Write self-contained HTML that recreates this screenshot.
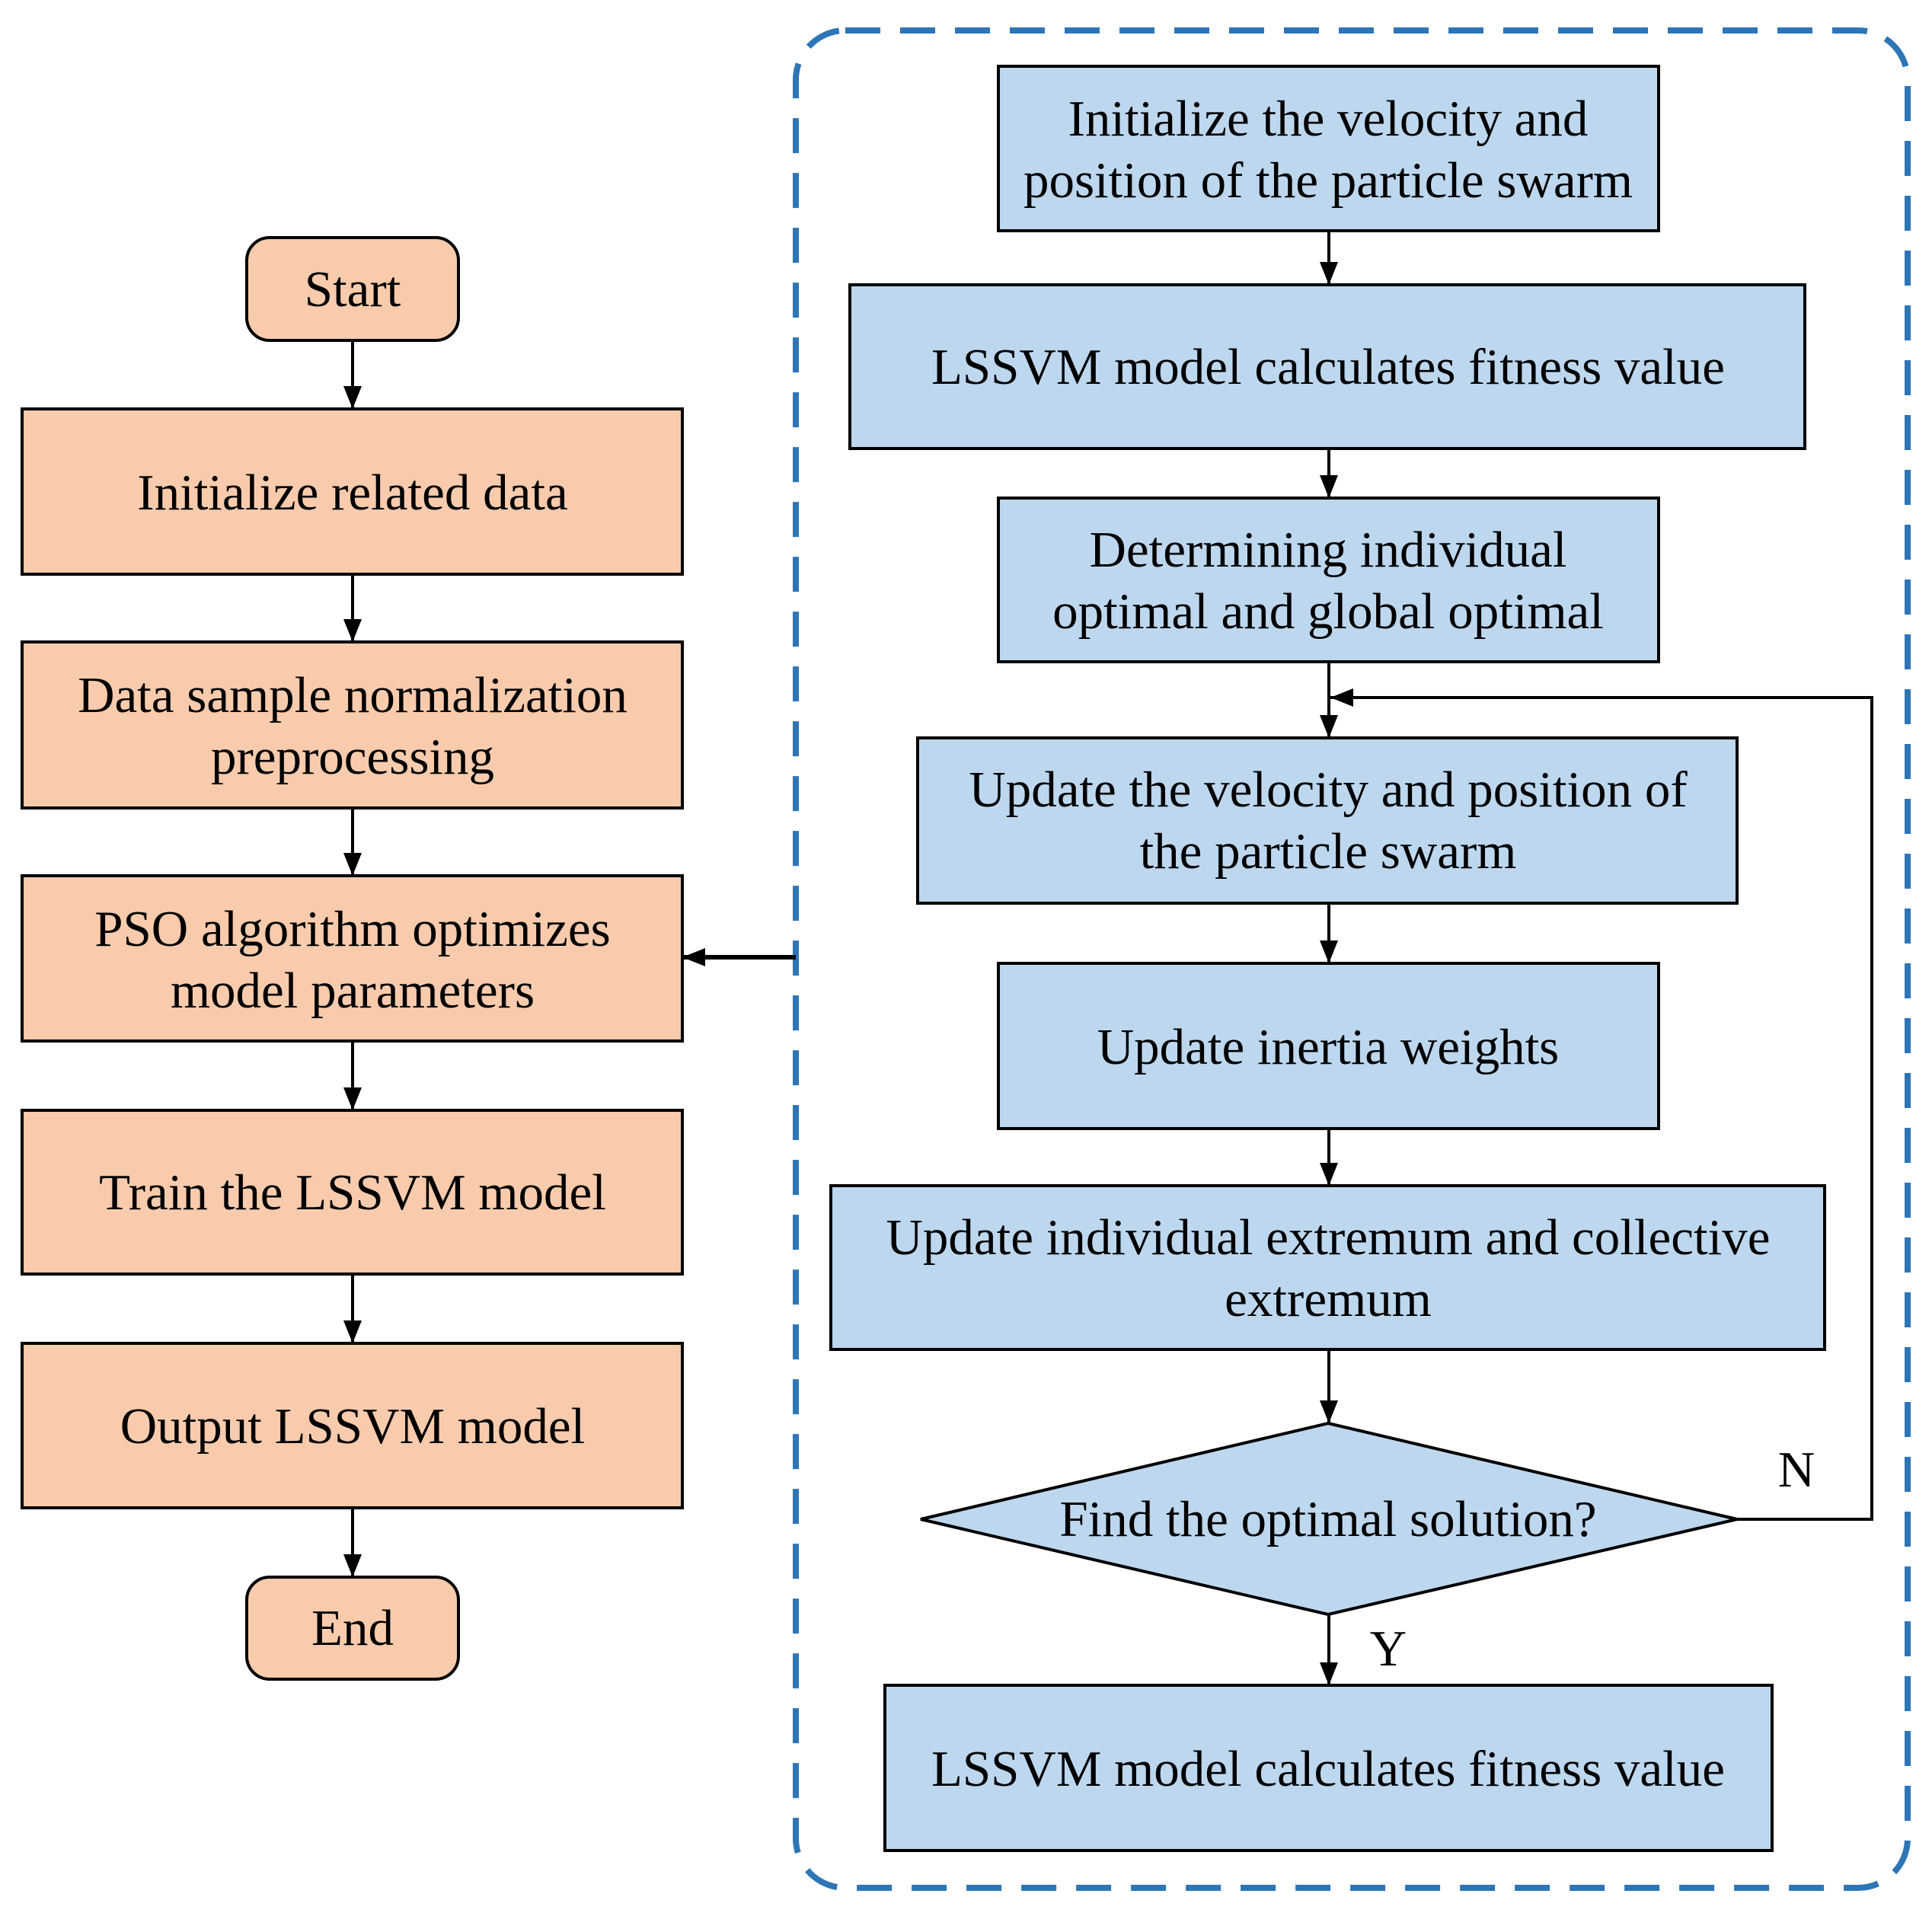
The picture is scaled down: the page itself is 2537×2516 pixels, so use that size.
<!DOCTYPE html>
<html><head><meta charset="utf-8"><style>
html,body{margin:0;padding:0;background:#fff;}
svg{display:block;}
text{font-family:"Liberation Serif",serif;font-size:67px;fill:#000;text-anchor:middle;}
</style></head><body>
<svg width="2537" height="2516" viewBox="0 0 2537 2516" xmlns="http://www.w3.org/2000/svg">
<defs>
<marker id="a" markerWidth="30" markerHeight="24" refX="30" refY="12" orient="auto" markerUnits="userSpaceOnUse">
<path d="M0,0 L30,12 L0,24 Z" fill="#000"/>
</marker>
</defs>
<rect x="1045" y="40" width="1460" height="2439" rx="65" ry="65" fill="none" stroke="#2e75b6" stroke-width="8" stroke-dasharray="46 26"/>
<g stroke="#000" stroke-width="4" fill="#f7cbac">
<rect x="324" y="312" width="278" height="135" rx="30"/>
<rect x="29" y="537" width="867" height="217"/>
<rect x="29" y="843" width="867" height="218"/>
<rect x="29" y="1150" width="867" height="217"/>
<rect x="29" y="1458" width="867" height="215"/>
<rect x="29" y="1764" width="867" height="216"/>
<rect x="324" y="2071" width="278" height="134" rx="30"/>
</g>
<g stroke="#000" stroke-width="4" fill="#bdd7ee">
<rect x="1311" y="87" width="867" height="216"/>
<rect x="1116" y="374" width="1254" height="215"/>
<rect x="1311" y="654" width="867" height="215"/>
<rect x="1205" y="969" width="1076" height="217"/>
<rect x="1311" y="1265" width="867" height="217"/>
<rect x="1091" y="1557" width="1305" height="215"/>
<polygon points="1744,1869 2281,1995 1744,2120 1209,1995"/>
<rect x="1162" y="2213" width="1165" height="217"/>
</g>
<g stroke="#000" stroke-width="4" fill="none" marker-end="url(#a)">
<line x1="463" y1="447" x2="463" y2="537"/>
<line x1="463" y1="754" x2="463" y2="843"/>
<line x1="463" y1="1061" x2="463" y2="1150"/>
<line x1="463" y1="1367" x2="463" y2="1458"/>
<line x1="463" y1="1673" x2="463" y2="1764"/>
<line x1="463" y1="1980" x2="463" y2="2071"/>
<line x1="1745" y1="303" x2="1745" y2="374"/>
<line x1="1745" y1="589" x2="1745" y2="654"/>
<line x1="1745" y1="869" x2="1745" y2="969"/>
<line x1="1745" y1="1186" x2="1745" y2="1265"/>
<line x1="1745" y1="1482" x2="1745" y2="1557"/>
<line x1="1745" y1="1772" x2="1745" y2="1869"/>
<line x1="1745" y1="2120" x2="1745" y2="2213"/>
<polyline points="2281,1995 2458,1995 2458,916 1747,916"/>
<line x1="1045" y1="1257" x2="896" y2="1257" stroke-width="6"/>
</g>
<text x="463" y="402">Start</text>
<text x="463" y="669">Initialize related data</text>
<text x="463" y="935">Data sample normalization</text>
<text x="463" y="1016">preprocessing</text>
<text x="463" y="1242">PSO algorithm optimizes</text>
<text x="463" y="1323">model parameters</text>
<text x="463" y="1588">Train the LSSVM model</text>
<text x="463" y="1895">Output LSSVM model</text>
<text x="463" y="2160">End</text>
<text x="1744" y="178">Initialize the velocity and</text>
<text x="1744" y="259">position of the particle swarm</text>
<text x="1744" y="504">LSSVM model calculates fitness value</text>
<text x="1744" y="744">Determining individual</text>
<text x="1744" y="825">optimal and global optimal</text>
<text x="1744" y="1059">Update the velocity and position of</text>
<text x="1744" y="1140">the particle swarm</text>
<text x="1744" y="1397">Update inertia weights</text>
<text x="1744" y="1647">Update individual extremum and collective</text>
<text x="1744" y="1728">extremum</text>
<text x="1744" y="2017">Find the optimal solution?</text>
<text x="1744" y="2345">LSSVM model calculates fitness value</text>
<text x="2359" y="1952">N</text>
<text x="1823" y="2187">Y</text>
</svg>
</body></html>
